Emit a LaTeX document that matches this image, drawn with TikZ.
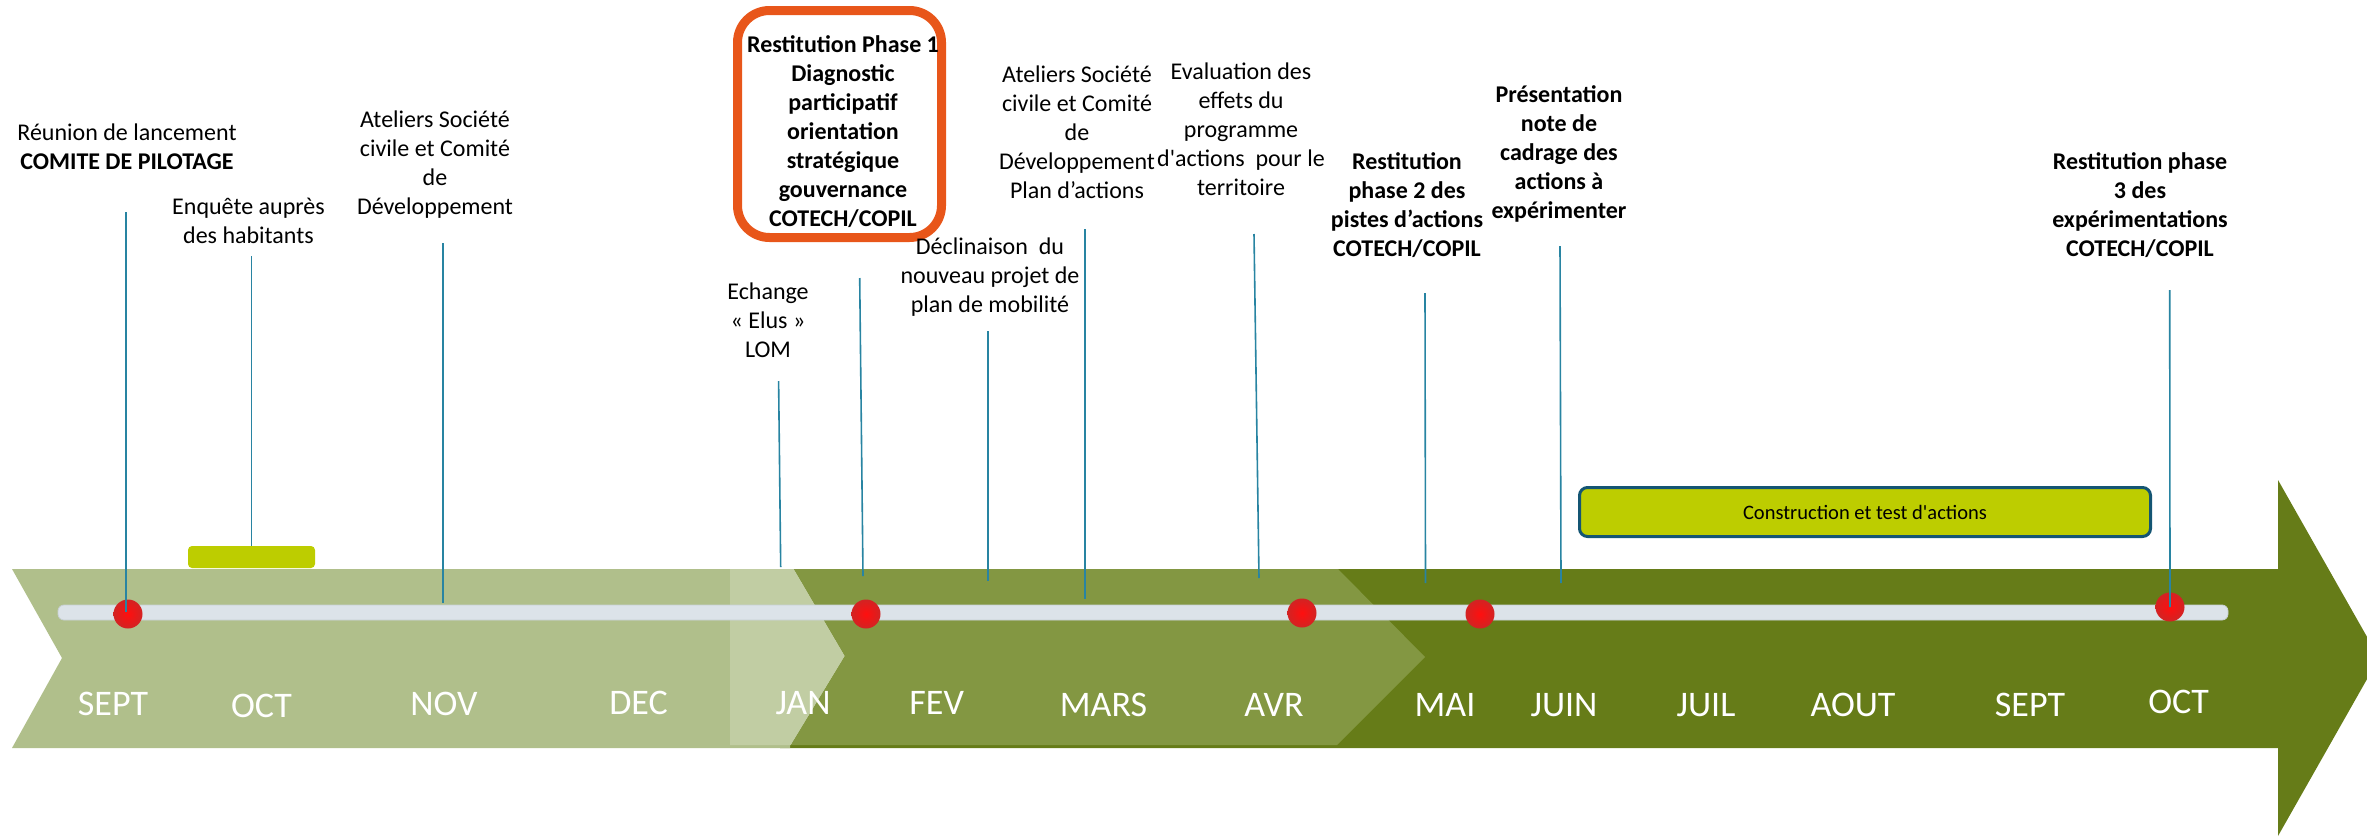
\documentclass[tikz,border=0pt]{standalone}
\usepackage{fontspec}
\setmainfont{Carlito}
\definecolor{lightband}{RGB}{176,191,139}
\definecolor{lighterband}{RGB}{193,205,163}
\definecolor{midband}{RGB}{131,151,66}
\definecolor{darkband}{RGB}{102,124,24}
\definecolor{barcol}{RGB}{220,227,233}
\definecolor{baredge}{RGB}{200,208,212}
\definecolor{linecol}{RGB}{40,132,162}
\definecolor{yellowbox}{RGB}{189,205,0}
\definecolor{orangec}{RGB}{232,86,26}
\definecolor{boxborder}{RGB}{20,85,115}
\definecolor{dotred}{RGB}{255,15,15}
\definecolor{dotedge}{RGB}{210,35,35}
\tikzset{
  lbl/.style={font=\fontsize{24}{29}\selectfont, align=center, inner sep=0pt, anchor=north, execute at begin node=\strut},
  month/.style={font=\fontsize{36}{43}\selectfont, text=white, inner sep=0pt, anchor=base},
  vline/.style={draw=linecol, line width=1.6pt},
  dot/.style={circle, minimum size=29pt, inner sep=0pt, shading=radial, inner color=dotred, outer color=dotedge},
  orangebox/.style={draw=orangec, line width=9pt, rounded corners=32pt, inner sep=0pt},
  constbox/.style={draw=boxborder, line width=3pt, fill=yellowbox, rounded corners=8pt, inner sep=0pt, font=\fontsize{20.5}{24}\selectfont},
  smallbox/.style={fill=yellowbox, rounded corners=4pt, inner sep=0pt}
}
\begin{document}
\begin{tikzpicture}[x=1pt,y=-1pt]
\useasboundingbox (0,0) rectangle (2367,836);
\clip (0,0) rectangle (2367,836);
% bands
\fill[darkband] (780,569) -- (2278,569) -- (2278,480) -- (2379,658) -- (2278,836) -- (2278,748) -- (780,748) -- cycle;
\fill[lightband] (12,569) -- (790,569) -- (790,748) -- (12,748) -- (62,658) -- cycle;
\fill[lighterband] (730,569) -- (794,569) -- (845,656) -- (791,745) -- (730,745) -- cycle;
\fill[midband] (794,569) -- (1338,569) -- (1425,657) -- (1337,745) -- (791,745) -- (845,656) -- cycle;
% timeline bar
\draw[baredge, fill=barcol, line width=0.8pt, rounded corners=6pt] (58,605) rectangle (2228,620);
% boxes
\node[smallbox, minimum width=127pt, minimum height=22pt] (ybox) at (251.5,557) {};
\node[constbox, minimum width=571pt, minimum height=49pt] (cbox) at (1865,512) {Construction et test d\textquotesingle actions};
\node[orangebox, minimum width=204pt, minimum height=227pt] (obox) at (839.5,124) {};
% dots
\node[dot] (d1) at (128,614) {};
\node[dot] (d2) at (866,614) {};
\node[dot] (d3) at (1302,613) {};
\node[dot] (d4) at (1480,614) {};
\node[dot] (d5) at (2170,607) {};
% connector coordinates
\coordinate (t1) at (126,212);   \coordinate (b1) at (126,612);
\coordinate (t2) at (251.5,256); \coordinate (b2) at (251.5,546);
\coordinate (t3) at (443,243);   \coordinate (b3) at (443,603);
\coordinate (t4) at (778.6,381); \coordinate (b4) at (780.7,567);
\coordinate (t5) at (859.7,278); \coordinate (b5) at (863,576);
\coordinate (t6) at (988,331);   \coordinate (b6) at (988,581);
\coordinate (t7) at (1084.7,229);\coordinate (b7) at (1084.7,599);
\coordinate (t8) at (1254,234);  \coordinate (b8) at (1259,578);
\coordinate (t9) at (1425,293);  \coordinate (b9) at (1425.5,583);
\coordinate (t10) at (1560,246); \coordinate (b10) at (1561,583);
\coordinate (t11) at (2169.7,290);
\draw[vline] (t1) -- (b1);
\draw[vline] (t2) -- (ybox.north);
\draw[vline] (t3) -- (b3);
\draw[vline] (t4) -- (b4);
\draw[vline] (t5) -- (b5);
\draw[vline] (t6) -- (b6);
\draw[vline] (t7) -- (b7);
\draw[vline] (t8) -- (b8);
\draw[vline] (t9) -- (b9);
\draw[vline] (t10) -- (b10);
\draw[vline] (t11) -- (d5.center);
% labels
\node[lbl] (l1) at (127,123.7) {Réunion de lancement\\\textbf{COMITE DE PILOTAGE}};
\node[lbl] (l2) at (248.5,197.4) {Enquête auprès\\des habitants};
\node[lbl] (l3) at (435,110.7) {Ateliers Société\\civile et Comité\\de\\Développement};
\node[lbl, font=\fontsize{24}{29}\selectfont\bfseries] (l4) at (843,35.7) {Restitution Phase 1\\Diagnostic\\participatif\\orientation\\stratégique\\gouvernance\\COTECH/COPIL};
\node[lbl] (l5) at (768,282.4) {Echange\\«~Elus~»\\LOM};
\node[lbl] (l6) at (990,238) {Déclinaison~ du\\nouveau projet de\\plan de mobilité};
\node[lbl] (l7) at (1077,65.7) {Ateliers Société\\civile et Comité\\de\\Développement\\Plan d’actions};
\node[lbl] (l8) at (1241,63) {Evaluation des\\effets du\\programme\\d\textquotesingle actions~ pour le\\territoire};
\node[lbl, font=\fontsize{24}{29}\selectfont\bfseries] (l9) at (1407,152.4) {Restitution\\phase 2 des\\pistes d’actions\\COTECH/COPIL};
\node[lbl, font=\fontsize{24}{29}\selectfont\bfseries] (l10) at (1559,85.7) {Présentation\\note de\\cadrage des\\actions à\\expérimenter};
\node[lbl, font=\fontsize{24}{29}\selectfont\bfseries] (l11) at (2140,152) {Restitution phase\\3 des\\expérimentations\\COTECH/COPIL};
% months
\node[month] (m1) at (113,715) {SEPT};
\node[month] (m2) at (261.5,717.7) {OCT};
\node[month] (m3) at (444,715) {NOV};
\node[month] (m4) at (638.5,714) {DEC};
\node[month] (m5) at (803,714) {JAN};
\node[month] (m6) at (936.7,714.7) {FEV};
\node[month] (m7) at (1103.5,716.7) {MARS};
\node[month] (m8) at (1274,716.7) {AVR};
\node[month] (m9) at (1445,716.7) {MAI};
\node[month] (m10) at (1564,716.7) {JUIN};
\node[month] (m11) at (1706,716.7) {JUIL};
\node[month] (m12) at (1853,716.7) {AOUT};
\node[month] (m13) at (2030,716.7) {SEPT};
\node[month] (m14) at (2178.6,713) {OCT};
\end{tikzpicture}
\end{document}
